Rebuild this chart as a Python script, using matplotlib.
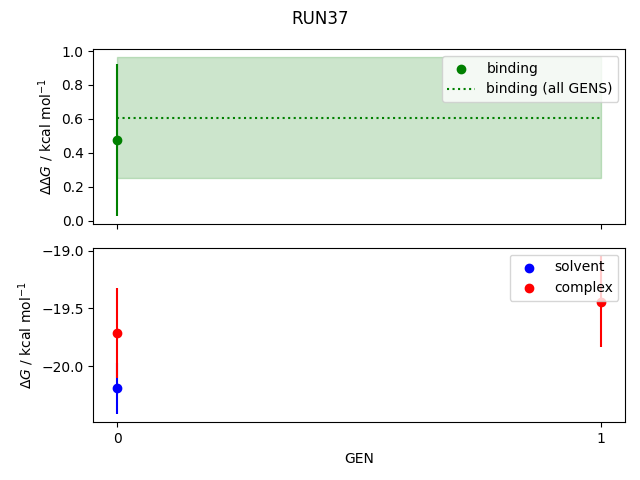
import matplotlib
matplotlib.use("Agg")
import matplotlib.pyplot as plt
import numpy as np

gens = [0, 1]
binding_gens = [0]
binding = [0.475]
binding_err = [0.448]
binding_all = 0.608
binding_all_err = 0.357
solvent_gens = [0]
solvent = [-20.192]
solvent_err = [0.224]
complex_gens = [0, 1]
complex_ = [-19.71, -19.44]
complex_err = [0.388, 0.397]

fig, (ax1, ax2) = plt.subplots(2, 1, sharex=True, figsize=(6.4, 4.8), dpi=100)

ax1.scatter(binding_gens, binding, color='green', label='binding')
ax1.errorbar(binding_gens, binding, yerr=binding_err, fmt='none', ecolor='green')
ax1.hlines(binding_all, min(gens), max(gens), color='green', linestyle=':', label='binding (all GENS)')
ax1.fill_between(gens, binding_all - binding_all_err, binding_all + binding_all_err, color='green', alpha=0.2)
ax1.set_ylabel(r'$\Delta\Delta G$ / kcal mol$^{-1}$')
ax1.legend(loc='upper right')

ax2.scatter(solvent_gens, solvent, color='blue', label='solvent')
ax2.errorbar(solvent_gens, solvent, yerr=solvent_err, fmt='none', ecolor='blue')
ax2.scatter(complex_gens, complex_, color='red', label='complex')
ax2.errorbar(complex_gens, complex_, yerr=complex_err, fmt='none', ecolor='red')
ax2.set_ylabel(r'$\Delta G$ / kcal mol$^{-1}$')
ax2.set_xlabel('GEN')
ax2.set_xticks(gens)
ax2.legend(loc='upper right')

fig.suptitle('RUN37')
ax1.set_position([0.1458, 0.5333, 0.8313, 0.3646])
ax2.set_position([0.1458, 0.1202, 0.8313, 0.3638])
fig.savefig('out.png', dpi=100)
